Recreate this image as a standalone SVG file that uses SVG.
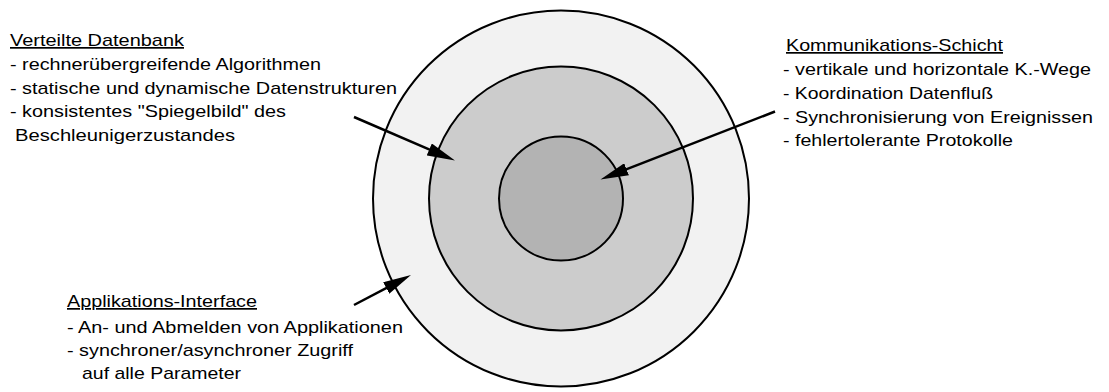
<svg xmlns="http://www.w3.org/2000/svg" width="1109" height="392" viewBox="0 0 1109 392">
<style>
text { font-family: "Liberation Sans", Arial, sans-serif; font-size: 17px; fill: #000; }
.title { text-decoration: underline; }
.ring { stroke: #000; stroke-width: 2; }
.conn { stroke: #000; stroke-width: 2.5; fill: none; marker-end: url(#head); }
</style>
<defs>
<marker id="head" markerUnits="userSpaceOnUse" markerWidth="28" markerHeight="13" refX="8" refY="6.5" orient="auto" viewBox="0 0 28 13">
<path d="M0,0 L28,6.5 L0,13 z" fill="#000"/>
</marker>
</defs>
<rect width="1109" height="392" fill="#fff"/>
<g id="ring-outer"><circle class="ring" cx="561" cy="198.5" r="188" fill="#f2f2f2"/></g>
<g id="ring-middle"><circle class="ring" cx="561" cy="198.5" r="132" fill="#cccccc"/></g>
<g id="ring-inner"><circle class="ring" cx="561" cy="198.5" r="62" fill="#b3b3b3"/></g>
<g id="connectors">
<line class="conn" x1="354" y1="117" x2="436.6" y2="152.6"/>
<line class="conn" x1="775" y1="111.5" x2="619.1" y2="172.2"/>
<line class="conn" x1="354" y1="305" x2="393.3" y2="284.3"/>
</g>
<g id="label-datenbank">
<text class="title" x="10" y="46" textLength="174" lengthAdjust="spacingAndGlyphs">Verteilte Datenbank</text>
<text x="10" y="70" textLength="311" lengthAdjust="spacingAndGlyphs">- rechnerübergreifende Algorithmen</text>
<text x="10" y="94" textLength="387" lengthAdjust="spacingAndGlyphs">- statische und dynamische Datenstrukturen</text>
<text x="10" y="117" textLength="276" lengthAdjust="spacingAndGlyphs">- konsistentes "Spiegelbild" des</text>
<text x="15" y="141" textLength="220" lengthAdjust="spacingAndGlyphs">Beschleunigerzustandes</text>
</g>
<g id="label-kommunikation">
<text class="title" x="786" y="51" textLength="217" lengthAdjust="spacingAndGlyphs">Kommunikations-Schicht</text>
<text x="783" y="75" textLength="308" lengthAdjust="spacingAndGlyphs">- vertikale und horizontale K.-Wege</text>
<text x="783" y="98.5" textLength="210" lengthAdjust="spacingAndGlyphs">- Koordination Datenfluß</text>
<text x="783" y="122.5" textLength="310" lengthAdjust="spacingAndGlyphs">- Synchronisierung von Ereignissen</text>
<text x="783" y="145.5" textLength="230" lengthAdjust="spacingAndGlyphs">- fehlertolerante Protokolle</text>
</g>
<g id="label-applikation">
<text class="title" x="67" y="307" textLength="190" lengthAdjust="spacingAndGlyphs">Applikations-Interface</text>
<text x="67" y="333" textLength="336" lengthAdjust="spacingAndGlyphs">- An- und Abmelden von Applikationen</text>
<text x="67" y="356" textLength="286" lengthAdjust="spacingAndGlyphs">- synchroner/asynchroner Zugriff</text>
<text x="82" y="379" textLength="159" lengthAdjust="spacingAndGlyphs">auf alle Parameter</text>
</g>
</svg>
